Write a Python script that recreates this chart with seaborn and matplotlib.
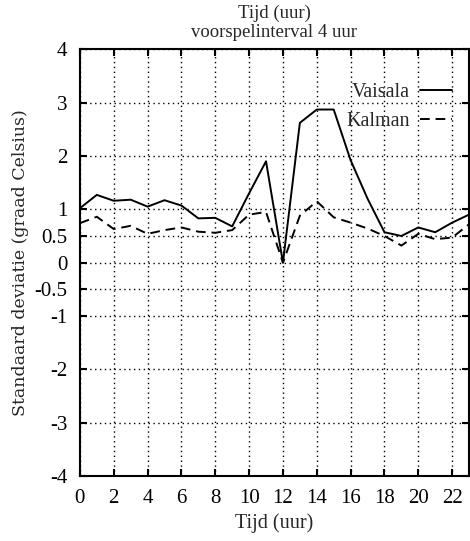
import matplotlib
matplotlib.use("Agg")
import matplotlib.pyplot as plt
import pandas as pd
import seaborn as sns

# data
hours = list(range(24))
vaisala = [1.02, 1.27, 1.16, 1.18, 1.05, 1.17, 1.07, 0.83, 0.84, 0.68, 1.30, 1.90,
           0.0, 2.62, 2.87, 2.87, 1.92, 1.20, 0.57, 0.50, 0.66, 0.57, 0.75, 0.90]
kalman = [0.74, 0.86, 0.63, 0.69, 0.54, 0.61, 0.66, 0.58, 0.56, 0.61, 0.90, 0.95,
          0.0, 0.88, 1.15, 0.85, 0.75, 0.64, 0.50, 0.32, 0.54, 0.44, 0.47, 0.72]
xticks = list(range(0, 23, 2))
yticks = [-4, -3, -2, -1, -0.5, 0, 0.5, 1, 2, 3, 4]
ytick_labels = ['-4', '-3', '-2', '-1', '-0.5', '0', '0.5', '1', '2', '3', '4']

sns.set_theme(style="ticks")
plt.rcParams['font.family'] = ['Liberation Serif', 'DejaVu Serif']

df = pd.DataFrame({'uur': hours, 'Vaisala': vaisala, 'Kalman': kalman})

fig = plt.figure(figsize=(4.7, 5.41), dpi=100)
ax = fig.add_axes([0.170, 0.120, 0.828, 0.789])

sns.lineplot(data=df, x='uur', y='Vaisala', ax=ax, color='black', lw=1.4, label='Vaisala')
sns.lineplot(data=df, x='uur', y='Kalman', ax=ax, color='black', lw=1.4,
             linestyle=(0, (5, 3)), label='Kalman')

ax.set_xlim(0, 23)
ax.set_ylim(-4, 4)
ax.set_xticks(xticks)
ax.set_yticks(yticks)
ax.set_yticklabels(ytick_labels)
ax.tick_params(direction='in', length=5, width=1.5, labelsize=15,
               top=True, right=True, colors='black')
ax.tick_params(axis='x', pad=9)
ax.tick_params(axis='y', pad=9)
ax.grid(True, color='black', linestyle=(0, (1, 2.5)), linewidth=1.0)
for s in ax.spines.values():
    s.set_linewidth(1.5)
    s.set_color('black')

ax.set_xlabel('Tijd (uur)', fontsize=14.5, labelpad=4)
ax.set_ylabel('Standaard deviatie (graad Celsius)', fontsize=12.5, family='DejaVu Serif',
              labelpad=4)
ax.set_title('Tijd (uur)\nvoorspelinterval 4 uur', fontsize=13.5, pad=9, linespacing=1.1)

leg = ax.legend(loc='upper right', bbox_to_anchor=(0.956, 0.92), frameon=False,
                markerfirst=False, fontsize=14.5, handlelength=1.6, labelspacing=0.45,
                handletextpad=0.5, borderaxespad=0, borderpad=0)

fig.savefig('out.png', dpi=100)
